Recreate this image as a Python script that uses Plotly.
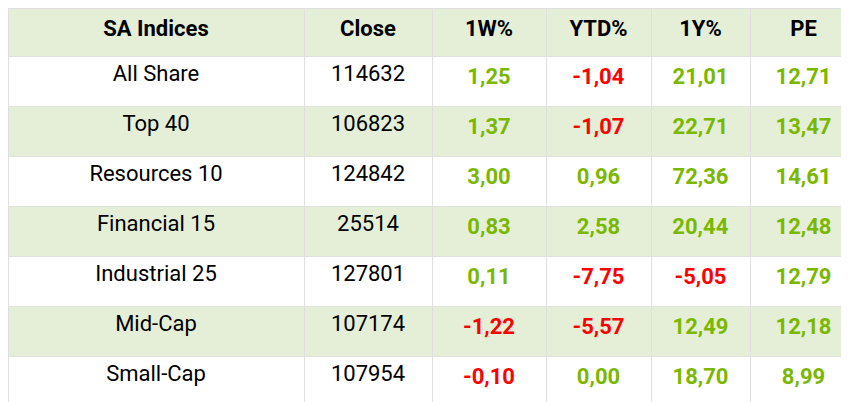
import plotly.graph_objects as go

indices = ["All Share", "Top 40", "Resources 10", "Financial 15", "Industrial 25", "Mid-Cap", "Small-Cap"]
close = ["114632", "106823", "124842", "25514", "127801", "107174", "107954"]
w1 = [1.25, 1.37, 3.00, 0.83, 0.11, -1.22, -0.10]
ytd = [-1.04, -1.07, 0.96, 2.58, -7.75, -5.57, 0.00]
y1 = [21.01, 22.71, 72.36, 20.44, -5.05, 12.49, 18.70]
pe = [12.71, 13.47, 14.61, 12.48, 12.79, 12.18, 8.99]
headers = ["SA Indices", "Close", "1W%", "YTD%", "1Y%", "PE"]

GREEN = "#7ab800"
RED = "#ff0000"
LIGHT = "#e5efd8"


def fmt(vals):
    return ["<b>" + f"{v:.2f}".replace(".", ",") + "</b>" for v in vals]


def colors(vals):
    return [RED if v < 0 else GREEN for v in vals]


row_fill = ["white" if i % 2 == 0 else LIGHT for i in range(len(indices))]
num_cols = [w1, ytd, y1, pe]

fig = go.Figure(go.Table(
    columnwidth=[296, 128, 114, 105, 99, 107],
    header=dict(
        values=[f"<b>{h}</b>" for h in headers],
        fill_color=LIGHT,
        line_color="#e0e0e0",
        font=dict(family="Roboto", size=22, color="black"),
        align="center",
        height=48,
    ),
    cells=dict(
        values=[indices, close] + [fmt(c) for c in num_cols],
        fill_color=[row_fill] * 6,
        line_color="#e0e0e0",
        font=dict(
            family="Roboto",
            size=22,
            color=[["black"] * 7, ["black"] * 7] + [colors(c) for c in num_cols],
        ),
        align="center",
        height=50,
    ),
))
fig.update_layout(width=849, height=402, margin=dict(l=0, r=0, t=0, b=0),
                  paper_bgcolor="white")
fig.write_html("out.html")
